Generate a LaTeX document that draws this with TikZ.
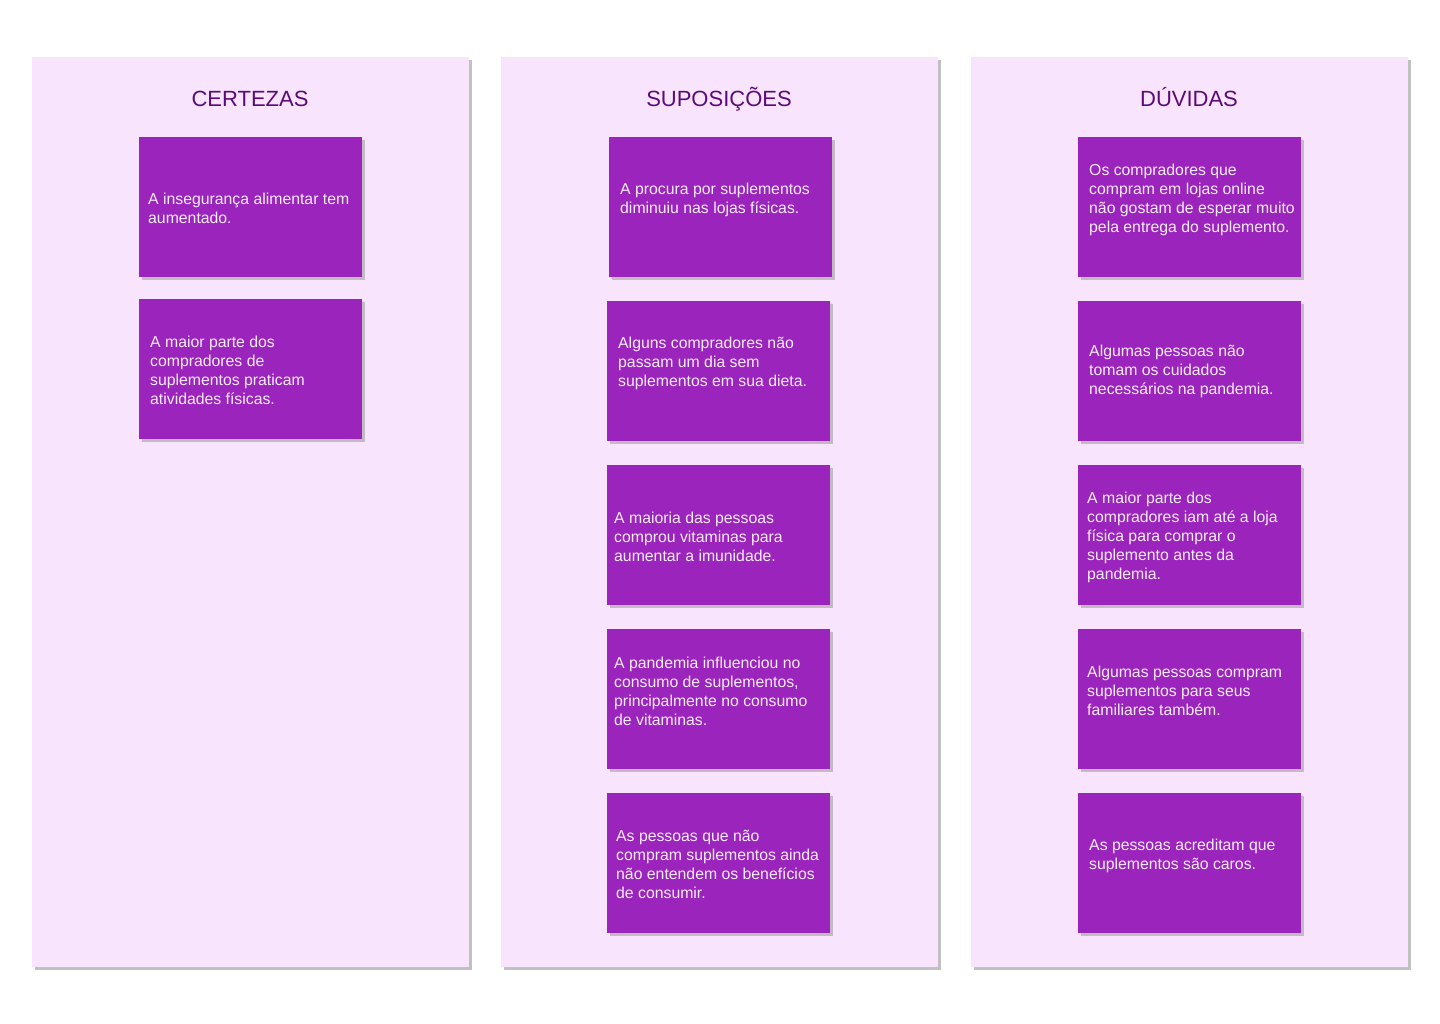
\documentclass[tikz,border=0pt]{standalone}
\usepackage{fontspec}
\setmainfont{Liberation Sans}
\usetikzlibrary{positioning,shadows}
\definecolor{colbg}{RGB}{248,228,252}
\definecolor{cardpurple}{RGB}{155,37,188}
\definecolor{titlepurple}{RGB}{92,10,122}
\definecolor{cardtext}{RGB}{248,236,250}

\tikzset{
  colpanel/.style={fill=colbg, anchor=north west, inner sep=0pt,
    minimum width=437pt, minimum height=910pt,
    drop shadow={shadow xshift=3pt, shadow yshift=-3pt, fill=black!40, opacity=0.6}},
  coltitle/.style={font=\fontsize{22}{26}\selectfont, text=titlepurple, anchor=base},
  card/.style={fill=cardpurple, anchor=north west, inner sep=0pt,
    minimum width=223pt, minimum height=140pt,
    drop shadow={shadow xshift=3pt, shadow yshift=-3pt, fill=black!40, opacity=0.55}},
  cardtxt/.style={anchor=west, align=left, inner sep=0pt, text=cardtext,
    font=\fontsize{15.8}{19}\selectfont}
}

\begin{document}
\begin{tikzpicture}[x=1pt, y=-1pt]

\useasboundingbox[fill=white] (0,0) rectangle (1440,1024);

% ==========================================
% Column Panels
% ==========================================
\node[colpanel] (colA) at (32,57) {};
\node[colpanel] (colB) at (501,57) {};
\node[colpanel] (colC) at (971,57) {};

% Column Titles
\node[coltitle] (titleA) at (250,106.5) {CERTEZAS};
\node[coltitle] (titleB) at (719,106.5) {SUPOSIÇÕES};
\node[coltitle] (titleC) at (1189,106.5) {DÚVIDAS};

% ==========================================
% Certezas
% ==========================================
\node[card] (certA) at (139,137) {};
\node[cardtxt] (certAtxt) at (148,208.5) {A insegurança alimentar tem\\aumentado.};

\node[card] (certB) at (139,299) {};
\node[cardtxt] (certBtxt) at (150,370.5) {A maior parte dos\\compradores de\\suplementos praticam\\atividades físicas.};

% ==========================================
% Suposicoes
% ==========================================
\node[card] (supA) at (609,137) {};
\node[cardtxt] (supAtxt) at (620,199.5) {A procura por suplementos\\diminuiu nas lojas físicas.};

\node[card] (supB) at (607,301) {};
\node[cardtxt] (supBtxt) at (618,363) {Alguns compradores não\\passam um dia sem\\suplementos em sua dieta.};

\node[card] (supC) at (607,465) {};
\node[cardtxt] (supCtxt) at (614,537) {A maioria das pessoas\\comprou vitaminas para\\aumentar a imunidade.};

\node[card] (supD) at (607,629) {};
\node[cardtxt] (supDtxt) at (614,691.5) {A pandemia influenciou no\\consumo de suplementos,\\principalmente no consumo\\de vitaminas.};

\node[card] (supE) at (607,793) {};
\node[cardtxt] (supEtxt) at (616,864.5) {As pessoas que não\\compram suplementos ainda\\não entendem os benefícios\\de consumir.};

% ==========================================
% Duvidas
% ==========================================
\node[card] (duvA) at (1078,137) {};
\node[cardtxt] (duvAtxt) at (1089,199.5) {Os compradores que\\compram em lojas online\\não gostam de esperar muito\\pela entrega do suplemento.};

\node[card] (duvB) at (1078,301) {};
\node[cardtxt] (duvBtxt) at (1089,371) {Algumas pessoas não\\tomam os cuidados\\necessários na pandemia.};

\node[card] (duvC) at (1078,465) {};
\node[cardtxt] (duvCtxt) at (1087,537) {A maior parte dos\\compradores iam até a loja\\física para comprar o\\suplemento antes da\\pandemia.};

\node[card] (duvD) at (1078,629) {};
\node[cardtxt] (duvDtxt) at (1087,691) {Algumas pessoas compram\\suplementos para seus\\familiares também.};

\node[card] (duvE) at (1078,793) {};
\node[cardtxt] (duvEtxt) at (1089,855.5) {As pessoas acreditam que\\suplementos são caros.};

\end{tikzpicture}
\end{document}
